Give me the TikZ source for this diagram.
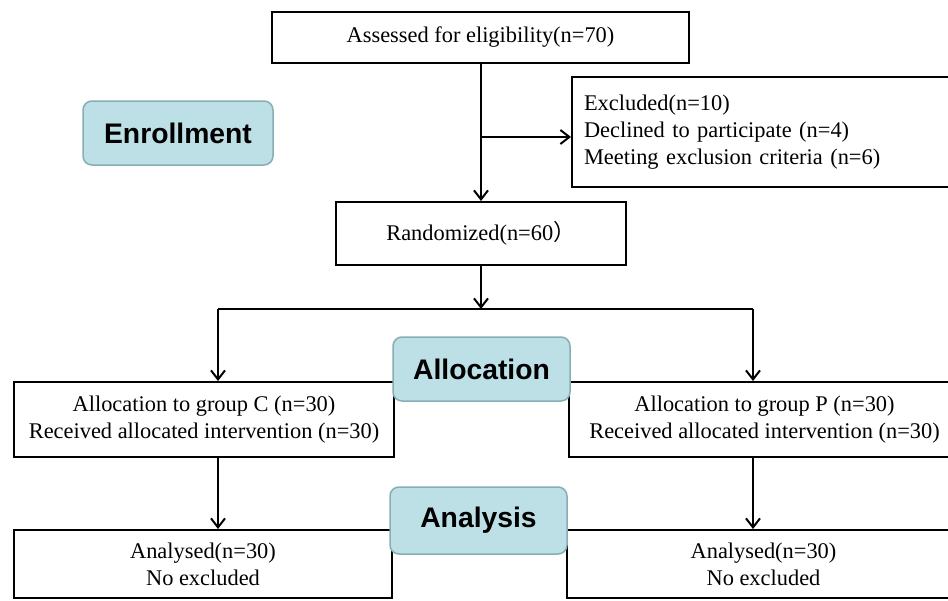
\documentclass[tikz,border=0pt]{standalone}
\usepackage{fontspec}
\setmainfont{Liberation Serif}
\newfontfamily\labfont{Liberation Sans}
\newfontfamily\cjk{Noto Sans CJK SC}
\usetikzlibrary{arrows.meta}
\definecolor{labfill}{HTML}{BCE0E6}
\definecolor{labdraw}{HTML}{86AEB4}
\begin{document}
\begin{tikzpicture}[x=1pt,y=-1pt,
  box/.style={draw=black,line width=2pt,fill=white,inner sep=0pt,align=center,
    font=\fontsize{22.4}{27}\selectfont},
  stage/.style={draw=labdraw,line width=1.5pt,fill=labfill,rounded corners=9pt,
    inner sep=0pt,font=\labfont\bfseries\fontsize{28.3}{32}\selectfont},
  conn/.style={line width=2pt,-{Straight Barb[length=9pt,width=14pt,line width=2pt]}},
  plain/.style={line width=2pt}]
\clip (0,0) rectangle (948,600);
\fill[white] (0,0) rectangle (948,600);
% boxes
\node[box,minimum width=417pt,minimum height=51pt] (assess) at (480.5,37.5) {Assessed for eligibility(n=70)};
\node[box,minimum width=388pt,minimum height=110pt,text width=364pt,align=left] (excl) at (766,132)
  {Excluded(n=10)\\Declined to participate (n=4)\\Meeting exclusion criteria (n=6)};
\node[box,minimum width=290pt,minimum height=63pt] (rand) at (481,233.5) {Randomized(n=60{\cjk ）}};
\node[box,minimum width=380pt,minimum height=75pt] (allocC) at (204,419.5)
  {Allocation to group C (n=30)\\Received allocated intervention (n=30)};
\node[box,minimum width=391pt,minimum height=75pt] (allocP) at (764.5,419.5)
  {Allocation to group P (n=30)\\Received allocated intervention (n=30)};
\node[box,minimum width=378pt,minimum height=68pt] (anaC) at (203,564)
  {Analysed(n=30)\\No excluded};
\node[box,minimum width=393pt,minimum height=68pt] (anaP) at (763.5,564)
  {Analysed(n=30)\\No excluded};
% stage labels
\node[stage,minimum width=190pt,minimum height=64pt] (enrol) at (178,133) {Enrollment};
\node[stage,minimum width=177pt,minimum height=64pt] (alloc) at (481.5,369) {Allocation};
\node[stage,minimum width=177pt,minimum height=67pt] (analy) at (478.5,520.5) {Analysis};
% connectors
\coordinate (j1) at (481,137);
\coordinate (split) at (481,309);
\coordinate (sl) at (218,309);
\coordinate (sr) at (753,309);
\draw[conn] (assess.south -| j1) -- (rand.north -| j1);
\draw[conn] (j1) -- (j1 -| excl.west);
\draw[conn] (rand.south -| split) -- (split);
\draw[plain] (sl) -- (sr);
\draw[conn] (sl) -- (sl |- allocC.north);
\draw[conn] (sr) -- (sr |- allocP.north);
\draw[conn] (sl |- allocC.south) -- (sl |- anaC.north);
\draw[conn] (sr |- allocP.south) -- (sr |- anaP.north);
\end{tikzpicture}
\end{document}
